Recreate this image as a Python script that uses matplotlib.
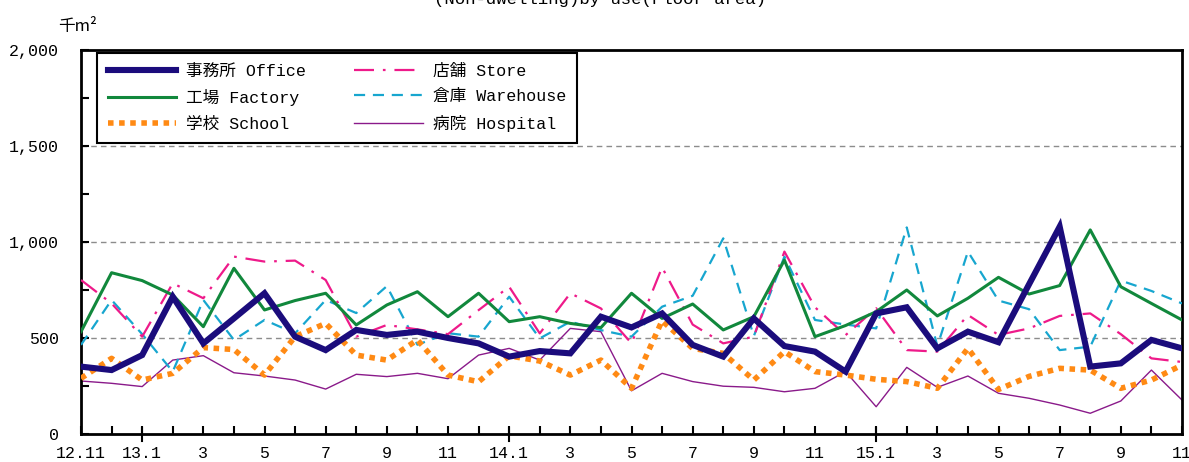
import matplotlib
matplotlib.use("Agg")
import matplotlib.pyplot as plt
from matplotlib.ticker import MultipleLocator

# monthly, 2012.11 - 2015.11 (thousand m2)
months = list(range(37))
tick_pos = list(range(0, 37, 2))
tick_labels = ["12.11", "13.1", "3", "5", "7", "9", "11", "14.1", "3", "5", "7", "9", "11",
               "15.1", "3", "5", "7", "9", "11"]
year_starts = [2, 14, 26]

office = [351, 333, 411, 715, 472, 602, 733, 507, 437, 542, 516, 533, 500, 472, 403, 432, 420, 611, 555,
          628, 464, 403, 602, 458, 429, 325, 628, 660, 446, 533, 478, 780, 1080, 351, 368, 490, 446]
factory = [533, 840, 799, 724, 559, 863, 646, 695, 733, 568, 672, 741, 611, 733, 585, 611, 576, 554, 733,
           602, 677, 542, 611, 906, 507, 565, 637, 750, 615, 707, 816, 729, 773, 1063, 767, 680, 594]
school = [290, 394, 281, 316, 450, 440, 307, 507, 576, 411, 385, 490, 307, 272, 407, 380, 307, 385, 238,
          590, 446, 420, 281, 429, 325, 307, 285, 273, 238, 446, 232, 300, 342, 333, 238, 281, 359]
store = [802, 680, 507, 785, 707, 924, 898, 903, 802, 507, 568, 545, 520, 645, 767, 524, 733, 654, 472,
         868, 570, 472, 507, 950, 660, 515, 655, 437, 429, 620, 516, 550, 615, 628, 520, 394, 375]
warehouse = [464, 698, 520, 325, 698, 490, 594, 524, 698, 630, 770, 465, 525, 507, 715, 498, 585, 541, 507,
             663, 720, 1019, 510, 924, 594, 570, 550, 1076, 458, 950, 695, 650, 437, 455, 799, 745, 680]
hospital = [276, 264, 247, 385, 408, 319, 302, 281, 234, 311, 299, 316, 288, 411, 446, 385, 550, 533, 225,
            316, 273, 249, 243, 220, 238, 325, 142, 347, 243, 302, 212, 186, 151, 108, 172, 333, 177]

mono = ["Liberation Mono", "Noto Sans CJK JP"]
plt.rcParams["font.family"] = mono

fig = plt.figure(figsize=(11.89, 4.62), dpi=100)
ax = fig.add_axes([81 / 1189, 28 / 462, 1101 / 1189, 384 / 462])

ax.plot(months, office, color="#1b0c7c", lw=4.4, label="事務所 Office", solid_joinstyle="miter", zorder=6)
ax.plot(months, store, color="#ee1a8a", lw=1.6, dashes=(9, 4, 1.2, 4), label="店舗 Store", zorder=4)
ax.plot(months, factory, color="#11883c", lw=2.2, label="工場 Factory", zorder=5)
ax.plot(months, warehouse, color="#17a6cf", lw=1.6, dashes=(5, 3.5), label="倉庫 Warehouse", zorder=3)
ax.plot(months, school, color="#ff8a14", lw=4.0, dashes=(1, 1), dash_capstyle="butt",
        label="学校 School", zorder=4)
ax.plot(months, hospital, color="#8a1a8a", lw=1.0, label="病院 Hospital", zorder=2)

ax.set_xlim(0, 36)
ax.set_ylim(0, 2000)
ax.set_xticks(tick_pos)
ax.set_xticklabels(tick_labels, fontsize=12)
ax.xaxis.set_minor_locator(MultipleLocator(1))
ax.set_yticks([0, 500, 1000, 1500, 2000])
ax.set_yticklabels(["0", "500", "1,000", "1,500", "2,000"], fontsize=12)
ax.yaxis.set_minor_locator(MultipleLocator(250))
ax.tick_params(axis="y", which="both", direction="in", length=6, width=1.5, pad=16)
ax.tick_params(axis="x", which="both", direction="in", length=6, width=1.5, pad=9)
for sp in ax.spines.values():
    sp.set_linewidth(2)
for y in [500, 1000, 1500]:
    ax.axhline(y, color="#8c8c8c", lw=1, dashes=(4, 3), zorder=1)
for x in year_starts:
    ax.axvline(x, ymin=-0.018, ymax=0.016, clip_on=False, color="black", lw=1.5)

handles, labels = ax.get_legend_handles_labels()
order = [0, 2, 4, 1, 3, 5]
leg = ax.legend([handles[i] for i in order], [labels[i] for i in order], ncol=2,
                loc="upper left", bbox_to_anchor=(0.0145, 0.992), borderaxespad=0,
                fontsize=12, handlelength=4.1, handletextpad=0.6, columnspacing=2.9,
                labelspacing=0.62, fancybox=False, framealpha=1, edgecolor="black",
                borderpad=0.65)
leg.get_frame().set_linewidth(1.5)

fig.text(0.505, 1 - 4 / 462, "(Non-dwelling)by use(Floor area)", ha="center", va="baseline", fontsize=12.5)
fig.text(58 / 1189, 1 - 31 / 462, "千m²", ha="left", va="baseline", fontsize=12,
         family=["Noto Sans CJK JP", "DejaVu Sans"])

fig.savefig("out.png", dpi=100)
